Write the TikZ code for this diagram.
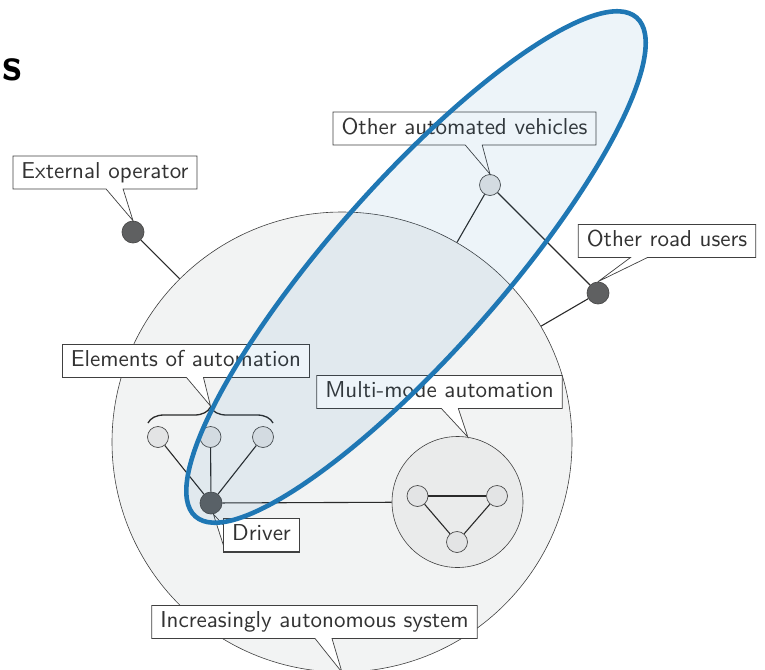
\documentclass[tikz,border=0pt]{standalone}
\usetikzlibrary{shapes.callouts,decorations.pathreplacing,calc}
\definecolor{bigfill}{HTML}{F2F3F3}
\definecolor{mmfill}{HTML}{EAEBEB}
\definecolor{nodelight}{HTML}{E3E4E5}
\definecolor{nodedark}{HTML}{5F6061}
\definecolor{edgecol}{HTML}{2A2A2A}
\definecolor{elblue}{HTML}{1F77B4}
\definecolor{txt}{HTML}{333333}
\newcommand{\lbltxt}[1]{\scalebox{2.3}{#1}}
\begin{document}
\begin{tikzpicture}[x=1pt,y=-1pt,
  lightnode/.style={circle, draw=edgecol!85, line width=0.7pt, fill=nodelight, minimum size=21pt, inner sep=0pt},
  darknode/.style={circle, draw=edgecol!85, line width=0.7pt, fill=nodedark, minimum size=22pt, inner sep=0pt},
  conn/.style={draw=edgecol, line width=1.1pt},
  boxbase/.style={draw=black!75, fill=white, line width=0.7pt, font=\sffamily\fontsize{10}{12}\selectfont, text=txt, inner xsep=8.5pt, inner ysep=0pt, minimum height=33pt, text height=16pt, text depth=4.5pt},
  callbox/.style={rectangle callout, boxbase, callout pointer width=17pt},
  plainbox/.style={rectangle, boxbase}
]
\useasboundingbox (0,0) rectangle (765,669);
\node[anchor=base west, font=\sffamily\bfseries\fontsize{10}{12}\selectfont, inner sep=0pt] (title) at (2,80) {\scalebox{4.6}{s}};

% big system circle
\node[circle, draw=black!75, line width=0.6pt, fill=bigfill, minimum size=460pt, inner sep=0pt] (big) at (342,442) {};
% outside actors
\node[darknode] (extop) at (133,232) {};
\node[lightnode] (ova) at (490,185) {};
\node[darknode] (oru) at (598,293) {};
\draw[conn] (extop) -- (big);
\draw[conn] (ova) -- (big);
\draw[conn] (oru) -- (big);
\draw[conn] (ova) -- (oru);

% multi-mode circle
\node[circle, draw=black!75, line width=0.6pt, fill=mmfill, minimum size=131pt, inner sep=0pt] (mm) at (457.5,502) {};
\node[lightnode] (t1) at (417.5,496) {};
\node[lightnode] (t2) at (497,496) {};
\node[lightnode] (t3) at (457,542) {};
\draw[conn] (t1) -- (t2);
\draw[conn] (t1) -- (t3);
\draw[conn] (t2) -- (t3);

% elements of automation
\node[lightnode] (e1) at (158,437) {};
\node[lightnode] (e2) at (210.5,437) {};
\node[lightnode] (e3) at (263,437) {};
\node[darknode] (drv) at (211,503) {};
\draw[conn] (drv) -- (e1);
\draw[conn] (drv) -- (e2);
\draw[conn] (drv) -- (e3);
\draw[conn] (drv) -- (mm);
\draw[edgecol, line width=1.3pt, decorate, decoration={brace, amplitude=16pt}] (148,423) -- (273,423);
\coordinate (bracetip) at (210.5,406);

% callouts
\node[callbox, callout absolute pointer={(extop.north)}] (lextop) at (105,172.5) {\lbltxt{External operator}};
\node[callbox, callout absolute pointer={(ova.north)}] (lova) at (464.5,128.5) {\lbltxt{Other automated vehicles}};
\node[callbox, callout absolute pointer={(oru.north)}] (loru) at (667,241) {\lbltxt{Other road users}};
\node[callbox, callout absolute pointer={(bracetip)}] (lelem) at (186,361) {\lbltxt{Elements of automation}};
\node[callbox, callout absolute pointer={(mm.81)}] (lmm) at (439.5,392) {\lbltxt{Multi-mode automation}};
\node[callbox, callout absolute pointer={(big.south)}] (lsys) at (314.5,622) {\lbltxt{Increasingly autonomous system}};
\node[plainbox] (ldrv) at (261.5,535) {\lbltxt{Driver}};
\fill[white] ($(ldrv.west)+(0,-10)$) -- (drv.-78) -- ($(ldrv.west)+(0,10)$) -- cycle;
\draw[black!75, line width=0.7pt] ($(ldrv.west)+(0,-10)$) -- (drv.-78) -- ($(ldrv.west)+(0,10)$);
\draw[black!75, line width=0.7pt] (ldrv.north west) rectangle (ldrv.south east);

% highlighted ellipse
\draw[elblue, line width=4.6pt, fill=elblue, fill opacity=0.08, rotate around={48.5:(416,267)}] (416,267) ellipse [x radius=333, y radius=85];
\end{tikzpicture}
\end{document}
